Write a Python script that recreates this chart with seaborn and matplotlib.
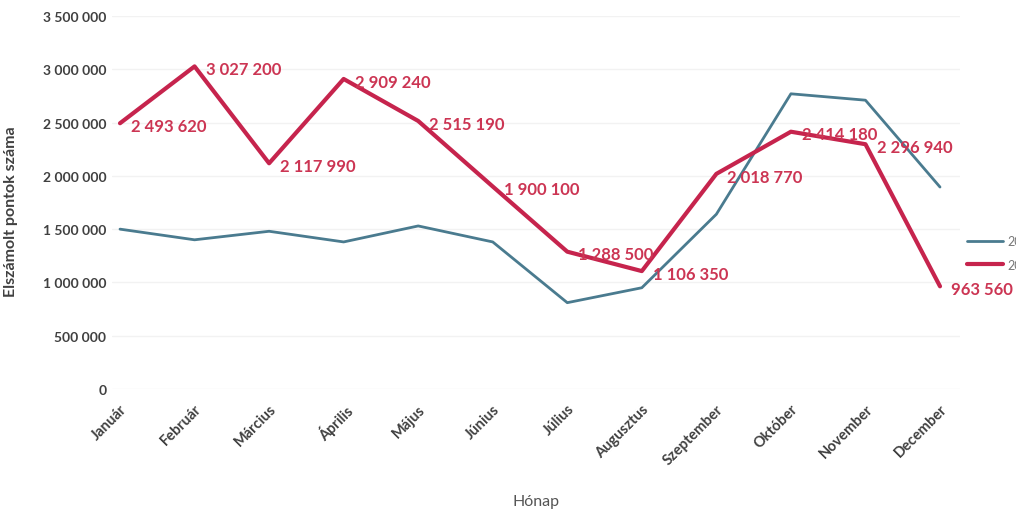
import matplotlib
matplotlib.use("Agg")
import matplotlib.pyplot as plt
import seaborn as sns
import pandas as pd
from matplotlib.ticker import FuncFormatter

months = ["Január", "Február", "Március", "Április", "Május", "Június",
          "Július", "Augusztus", "Szeptember", "Október", "November", "December"]
series_a_name = "2022"
series_b_name = "2023"
series_a = [1500000, 1400000, 1480000, 1380000, 1530000, 1380000,
            810000, 950000, 1640000, 2770000, 2710000, 1895000]
series_b = [2493620, 3027200, 2117990, 2909240, 2515190, 1900100,
            1288500, 1106350, 2018770, 2414180, 2296940, 963560]
y_ticks = [0, 500000, 1000000, 1500000, 2000000, 2500000, 3000000, 3500000]

blue = "#4a7b8f"
red = "#c6244d"
label_red = "#cc3553"
text_col = "#404040"

df = pd.DataFrame({
    "month": months * 2,
    "x": list(range(len(months))) * 2,
    "value": series_a + series_b,
    "series": [series_a_name] * len(months) + [series_b_name] * len(months),
})

sns.set_theme(style="white")
plt.rcParams["font.family"] = ["Lato", "DejaVu Sans"]

fig = plt.figure(figsize=(10.16, 5.10), dpi=100)
W, H = 1016, 510
left, right, top, bottom = 112, 960, 17, 390
ax = fig.add_axes([left / W, 1 - bottom / H, (right - left) / W, (bottom - top) / H])

sns.lineplot(data=df, x="x", y="value", hue="series",
             palette={series_a_name: blue, series_b_name: red},
             ax=ax, legend=False, sort=False)
lines = ax.get_lines()
lines[0].set_linewidth(2.0)
lines[1].set_linewidth(3.0)

for i, v in enumerate(series_b):
    txt = f"{v:,}".replace(",", " ")
    ax.annotate(txt, (i, v), xytext=(8, -2), textcoords="offset points",
                ha="left", va="center", color=label_red, fontsize=12,
                fontweight="bold", annotation_clip=False)

px = 74.55
ax.set_xlim(-8 / px, 11 + 20 / px)
ax.set_ylim(0, 3500000)
ax.set_yticks(y_ticks)
ax.yaxis.set_major_formatter(FuncFormatter(lambda v, p: f"{int(v):,}".replace(",", " ")))
ax.set_xticks(range(len(months)))
ax.set_xticklabels(months, rotation=45, ha="right", va="top", rotation_mode="anchor")
ax.tick_params(axis="y", length=0, labelsize=10, labelcolor=text_col, pad=4)
ax.tick_params(axis="x", length=0, labelsize=10.5, labelcolor=text_col, pad=9)
for lab in ax.get_yticklabels() + ax.get_xticklabels():
    lab.set_fontweight("bold")

ax.grid(axis="y", color="#f2f2f2", linewidth=1)
for s in ax.spines.values():
    s.set_visible(False)

ax.set_ylabel("Elszámolt pontok száma", fontsize=11.5, fontweight="bold", color=text_col)
ax.yaxis.set_label_coords(-0.111, 0.477)
ax.set_xlabel("Hónap", fontsize=11.5, color="#555555", labelpad=20)

handles = [plt.Line2D([], [], color=blue, lw=2), plt.Line2D([], [], color=red, lw=3)]
fig.legend(handles, [series_a_name, series_b_name], loc="center left",
           bbox_to_anchor=(967 / W, 1 - 254 / H), frameon=False, borderpad=0,
           borderaxespad=0, handlelength=2.9, handletextpad=0.3, fontsize=9,
           labelspacing=0.9, labelcolor="#777777")

fig.savefig("out.png", dpi=100, facecolor="white")
